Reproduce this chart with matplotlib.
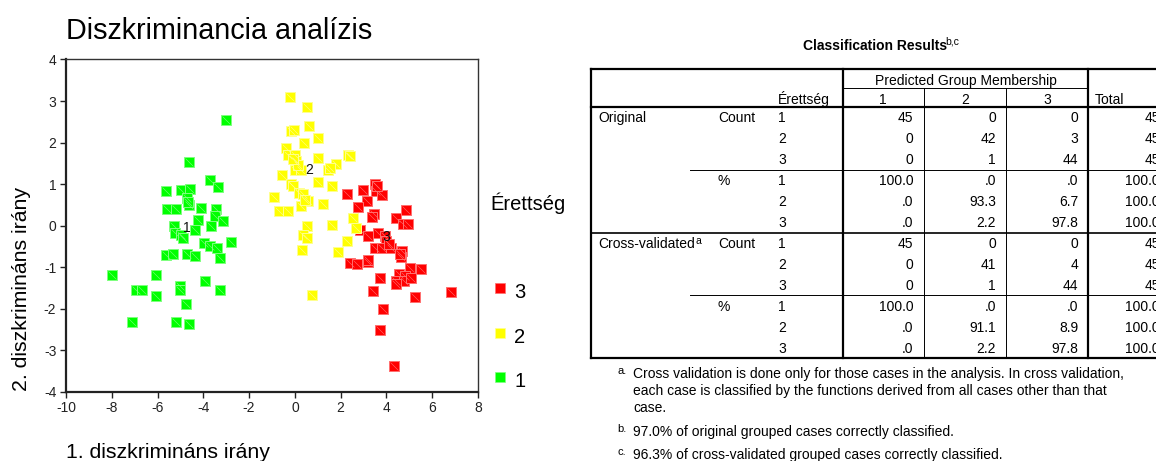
import numpy as np
import matplotlib
matplotlib.use('Agg')
from matplotlib import pyplot as plt
from matplotlib.path import Path

plt.rcParams['font.family'] = ['Liberation Sans', 'DejaVu Sans']
plt.rcParams['axes.unicode_minus'] = False

# discriminant scores per group (1. and 2. function)
g1_x = [-3.03, -4.63, -3.69, -3.36, -5.62, -4.96, -4.57, -4.70, -4.63, -5.57,
        -5.18, -4.09, -3.46, -3.51, -4.24, -3.14, -5.30, -5.25, -4.96, -4.89,
        -4.38, -3.65, -3.99, -3.72, -3.41, -2.81, -5.65, -5.33, -4.72, -4.38,
        -3.29, -7.97, -6.05, -6.96, -6.66, -6.05, -5.00, -5.00, -3.94, -3.26,
        -4.77, -7.10, -5.21, -4.63, -4.65]
g1_y = [2.55, 1.53, 1.10, 0.92, 0.83, 0.86, 0.89, 0.66, 0.50, 0.40,
        0.40, 0.43, 0.40, 0.24, 0.14, 0.12, 0.00, -0.18, -0.22, -0.30,
        -0.11, 0.00, -0.42, -0.48, -0.54, -0.39, -0.71, -0.68, -0.68, -0.74,
        -0.78, -1.18, -1.18, -1.54, -1.54, -1.69, -1.46, -1.56, -1.33, -1.54,
        -1.90, -2.33, -2.33, -2.36, 0.58]

g2_x = [-0.22, 0.55, 0.61, -0.17, -0.04, 0.99, 0.39, -0.39, 2.30, 2.42,
        -0.32, 0.00, 0.07, 0.99, 1.78, 1.46, 1.53, 0.00, 0.26, -0.58,
        0.99, -0.17, -0.07, 1.60, 0.17, 0.37, -0.92, 0.58, 0.26, 1.21,
        -0.70, -0.32, 2.55, 0.55, 1.60, 2.67, 0.37, 0.55, 2.26, 0.29,
        1.88, 0.73, 0.12, -0.10, 0.45]
g2_y = [3.10, 2.86, 2.40, 2.29, 2.31, 2.10, 1.98, 1.87, 1.71, 1.67,
        1.69, 1.69, 1.55, 1.62, 1.49, 1.35, 1.39, 1.33, 1.35, 1.22,
        1.04, 0.99, 0.95, 0.95, 0.79, 0.75, 0.70, 0.59, 0.47, 0.53,
        0.35, 0.35, 0.19, -0.02, 0.02, -0.06, -0.22, -0.30, -0.38, -0.59,
        -0.63, -1.67, 1.45, 1.60, 0.62]

g3_x = [3.52, 3.55, 3.80, 2.97, 2.27, 3.14, 2.75, 3.45, 3.36, 4.86,
        4.43, 4.72, 4.96, 2.86, 3.19, 3.62, 3.92, 3.99, 3.48, 3.82,
        4.21, 4.69, 4.62, 2.39, 2.71, 3.19, 5.04, 5.52, 4.54, 4.79,
        3.70, 4.43, 4.75, 5.08, 3.41, 5.23, 6.83, 3.84, 3.74, 4.31,
        3.20, 4.60, 4.40, 4.10, 3.60]
g3_y = [0.99, 0.83, 0.73, 0.85, 0.75, 0.59, 0.44, 0.28, 0.20, 0.37,
        0.19, 0.05, 0.05, -0.10, -0.26, -0.19, -0.26, -0.38, -0.54, -0.54,
        -0.54, -0.62, -0.75, -0.90, -0.92, -0.88, -1.02, -1.04, -1.16, -1.22,
        -1.27, -1.33, -1.33, -1.26, -1.57, -1.72, -1.60, -2.02, -2.51, -3.39,
        -0.84, -0.68, -1.40, -0.45, 0.95]

# group centroids
cent_x = [-4.72, 0.63, 3.99]
cent_y = [-0.06, 1.33, -0.27]
groups = ['1', '2', '3']
fill = {'1': '#00ff00', '2': '#ffff00', '3': '#ff0000'}
edge = {'1': '#80ff80', '2': '#ffff90', '3': '#ff7070'}

# classification results
counts_orig = [[45, 0, 0], [0, 42, 3], [0, 1, 44]]
counts_cv = [[45, 0, 0], [0, 41, 4], [0, 1, 44]]
foot_a = ["Cross validation is done only for those cases in the analysis. In cross validation,",
          "each case is classified by the functions derived from all cases other than that",
          "case."]
foot_b = "97.0% of original grouped cases correctly classified."
foot_c = "96.3% of cross-validated grouped cases correctly classified."

W, H = 1156, 461
fig = plt.figure(figsize=(W / 100, H / 100), dpi=100)

# ---- scatter of the discriminant scores ----
ax = fig.add_axes([66 / W, 1 - 391.7 / H, 412 / W, 332.2 / H])
diag = Path([(-1, 1), (1, -1)], [Path.MOVETO, Path.LINETO])
pts = {'1': (g1_x, g1_y), '2': (g2_x, g2_y), '3': (g3_x, g3_y)}
for g in ['3', '2', '1']:
    x, y = pts[g]
    ax.scatter(x, y, marker='s', s=54, c=fill[g], edgecolors=edge[g], linewidths=0.7, zorder=3)
    ax.scatter(x, y, marker=diag, s=32, c=edge[g], linewidths=0.4, zorder=3)
for cx, cy, g in zip(cent_x, cent_y, groups):
    ax.text(cx, cy, g, fontsize=10, ha='center', va='center', color='#111111', zorder=4)

ax.set_xlim(-10, 8)
ax.set_ylim(-4, 4)
ax.set_xticks(np.arange(-10, 9, 2))
ax.set_yticks(np.arange(-4, 5, 1))
ax.tick_params(direction='out', length=4, width=1, labelsize=10, colors='#222222', pad=3)
for side in ['left', 'bottom']:
    ax.spines[side].set_linewidth(1.6)
    ax.spines[side].set_color('#222222')
for side in ['top', 'right']:
    ax.spines[side].set_linewidth(1.0)
    ax.spines[side].set_color('#333333')

# ---- overlay in pixel coordinates for titles, legend and table ----
ov = fig.add_axes([0, 0, 1, 1], zorder=5)
ov.set_xlim(0, W)
ov.set_ylim(H, 0)
ov.axis('off')

ov.text(66, 39, 'Diszkriminancia analízis', fontsize=20.7, va='baseline', ha='left')
ov.text(66, 458, '1. diszkrimináns irány', fontsize=15.3, va='baseline', ha='left')
ov.text(27, 391, '2. diszkrimináns irány', fontsize=15.3, rotation=90,
        rotation_mode='anchor', ha='left', va='baseline')

# legend
ov.text(490, 210, 'Érettség', fontsize=14.5, va='baseline', ha='left')
for g, ly in zip(['3', '2', '1'], [288, 333, 377]):
    ov.scatter([499.5], [ly], marker='s', s=42, c=fill[g], edgecolors=edge[g], linewidths=0.5)
    ov.text(514, ly + 4, g, fontsize=14.5, va='center', ha='left')

# table
fs = 10
ov.text(947, 50, 'Classification Results', fontsize=10, fontweight='bold', ha='right', va='baseline')
ov.text(945, 45, 'b,c', fontsize=7.5, ha='left', va='baseline')

top, sub, head, bottom = 69, 88, 107, 358
rowh = (bottom - head) / 12
left, right = 591, 1160
cols = [843, 923.5, 1006, 1088]
thick, thin = 1.6, 0.7
ov.plot([left, right], [top, top], color='k', lw=thick)
ov.plot([cols[0], cols[3]], [sub, sub], color='k', lw=thin)
ov.plot([left, right], [head, head], color='k', lw=thick)
ov.plot([left, right], [head + 6 * rowh, head + 6 * rowh], color='k', lw=1.2)
ov.plot([left, right], [bottom, bottom], color='k', lw=thick)
for k in [3, 9]:
    ov.plot([690, right], [head + k * rowh, head + k * rowh], color='k', lw=thin)
for xc in [left, cols[0], cols[3]]:
    ov.plot([xc, xc], [top, bottom], color='k', lw=thick)
for xc in [cols[1], cols[2]]:
    ov.plot([xc, xc], [sub, bottom], color='k', lw=thin)

# header cells sit on their lower border
ov.text((cols[0] + cols[3]) / 2, sub - 3, 'Predicted Group Membership',
        fontsize=fs, ha='center', va='baseline')
ov.text(778, head - 3, 'Érettség', fontsize=fs, ha='left', va='baseline')
for i, g in enumerate(groups):
    ov.text((cols[i] + cols[i + 1]) / 2, head - 3, g, fontsize=fs, ha='center', va='baseline')
ov.text(1095, head - 3, 'Total', fontsize=fs, ha='left', va='baseline')


def fmt_pct(v):
    s = '%.1f' % v
    return s[1:] if s.startswith('0') else s


blocks = [('Original', counts_orig, ''), ('Cross-validated', counts_cv, 'a')]
r = 0
for name, counts, sup in blocks:
    ry0 = head + r * rowh + rowh / 2 + 1
    ov.text(598, ry0, name, fontsize=fs, ha='left', va='center')
    if sup:
        ov.text(695, ry0 - 3, sup, fontsize=7.5, ha='left', va='center')
    for kind in ['Count', '%']:
        ov.text(718, head + r * rowh + rowh / 2 + 1, kind, fontsize=fs, ha='left', va='center')
        for i, row in enumerate(counts):
            yy = head + r * rowh + rowh / 2 + 1
            tot = sum(row)
            ov.text(778, yy, groups[i], fontsize=fs, ha='left', va='center')
            for j, v in enumerate(row):
                s = str(v) if kind == 'Count' else fmt_pct(100.0 * v / tot)
                ov.text(cols[j + 1] - 10, yy, s, fontsize=fs, ha='right', va='center')
            s = str(tot) if kind == 'Count' else fmt_pct(100.0)
            ov.text(1160, yy, s, fontsize=fs, ha='right', va='center', clip_on=False)
            r += 1

# footnotes
ov.text(617, 371, 'a.', fontsize=8, ha='left', va='center')
for k, line in enumerate(foot_a):
    ov.text(633, 374 + k * 17, line, fontsize=fs, ha='left', va='center')
ov.text(617, 429, 'b.', fontsize=8, ha='left', va='center')
ov.text(633, 432, foot_b, fontsize=fs, ha='left', va='center')
ov.text(617, 452, 'c.', fontsize=8, ha='left', va='center')
ov.text(633, 455, foot_c, fontsize=fs, ha='left', va='center')

fig.savefig('out.png', dpi=100)
